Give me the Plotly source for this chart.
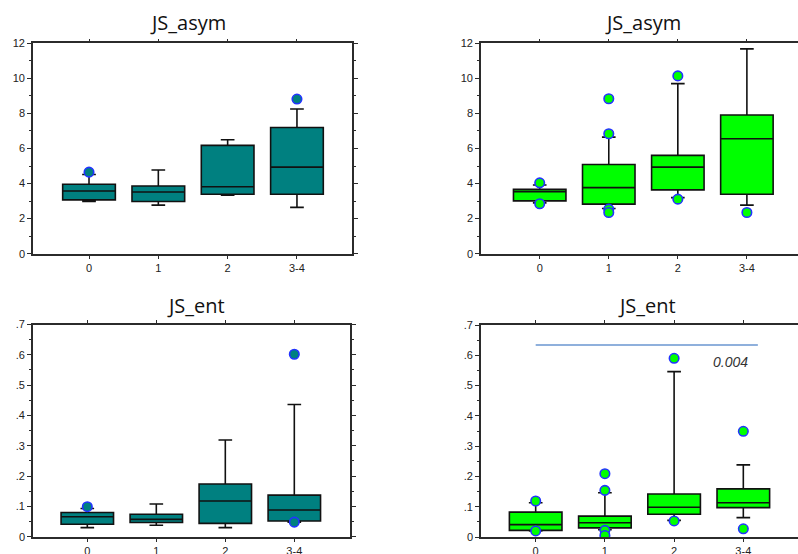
import plotly.graph_objects as go

# ---------------------------------------------------------------------------
# Data: box-plot summaries per severity group (0, 1, 2, 3-4)
# ---------------------------------------------------------------------------
groups = ["0", "1", "2", "3-4"]
group_pos = [0, 1, 2, 3]

# JS_asym, cohort A (teal)
asym_a_q1 = [3.07, 2.98, 3.39, 3.39]
asym_a_med = [3.58, 3.52, 3.82, 4.94]
asym_a_q3 = [3.96, 3.86, 6.18, 7.20]
asym_a_lo = [2.98, 2.77, 3.33, 2.64]
asym_a_hi = [4.52, 4.77, 6.50, 8.25]
asym_a_out_x = [0, 3]
asym_a_out_y = [4.65, 8.82]

# JS_asym, cohort B (green)
asym_b_q1 = [3.01, 2.83, 3.64, 3.39]
asym_b_med = [3.54, 3.77, 4.94, 6.56]
asym_b_q3 = [3.67, 5.09, 5.61, 7.91]
asym_b_lo = [2.90, 2.58, 3.20, 2.77]
asym_b_hi = [3.92, 6.65, 9.70, 11.68]
asym_b_out_x = [0, 0, 1, 1, 1, 1, 2, 2, 3]
asym_b_out_y = [4.04, 2.85, 6.84, 8.84, 2.54, 2.35, 10.14, 3.11, 2.35]

# JS_ent, cohort A (teal)
ent_a_q1 = [0.041, 0.047, 0.044, 0.052]
ent_a_med = [0.066, 0.057, 0.118, 0.088]
ent_a_q3 = [0.080, 0.074, 0.174, 0.137]
ent_a_lo = [0.030, 0.038, 0.030, 0.048]
ent_a_hi = [0.093, 0.108, 0.319, 0.436]
ent_a_out_x = [0, 3, 3]
ent_a_out_y = [0.099, 0.602, 0.048]

# JS_ent, cohort B (green)
ent_b_q1 = [0.022, 0.030, 0.075, 0.097]
ent_b_med = [0.041, 0.047, 0.098, 0.113]
ent_b_q3 = [0.082, 0.069, 0.142, 0.159]
ent_b_lo = [0.020, 0.024, 0.055, 0.064]
ent_b_hi = [0.113, 0.146, 0.546, 0.238]
ent_b_out_x = [0, 0, 1, 1, 1, 1, 2, 2, 3, 3]
ent_b_out_y = [0.119, 0.020, 0.154, 0.209, 0.022, 0.005, 0.590, 0.053, 0.349, 0.027]

# trend test between group 0 and 3-4 for JS_ent, cohort B
trend_p = "0.004"
trend_y = 0.634
trend_x_end = 3.21
trend_label_x = 2.81
trend_label_y = 0.578

# axis tick labels
asym_ticks = [0, 2, 4, 6, 8, 10, 12]
asym_ticktext = ["0", "2", "4", "6", "8", "10", "12"]
ent_ticks = [0, 0.1, 0.2, 0.3, 0.4, 0.5, 0.6, 0.7]
ent_ticktext = ["0", ".1", ".2", ".3", ".4", ".5", ".6", ".7"]

# ---------------------------------------------------------------------------
# Layout helpers (pixel geometry of the 798x554 canvas)
# ---------------------------------------------------------------------------
W, H = 798, 554


def fx(p):
    return p / W


def fy(p):
    return 1 - p / H


TEAL = "#008080"
GREEN = "#00ff00"
OUT_EDGE = "#2233ff"
AXIS = "#2b2b2b"
TICKFONT = dict(family="Liberation Sans, Arial, sans-serif", size=11, color="#222222")
TITLEFONT = dict(family="Open Sans, Noto Sans, sans-serif", size=20, color="#111111")

panels = [
    dict(q1=asym_a_q1, med=asym_a_med, q3=asym_a_q3, lo=asym_a_lo, hi=asym_a_hi,
         ox=asym_a_out_x, oy=asym_a_out_y, color=TEAL,
         xd=(33, 352), yd=(43.3, 253.7), xr=(-0.808, 3.794), kind="asym", mirror=True,
         title="JS_asym", tx=188, ty=22),
    dict(q1=asym_b_q1, med=asym_b_med, q3=asym_b_q3, lo=asym_b_lo, hi=asym_b_hi,
         ox=asym_b_out_x, oy=asym_b_out_y, color=GREEN,
         xd=(481, 798), yd=(43.3, 253.7), xr=(-0.85, 3.74), kind="asym", mirror=False,
         title="JS_asym", tx=643, ty=22),
    dict(q1=ent_a_q1, med=ent_a_med, q3=ent_a_q3, lo=ent_a_lo, hi=ent_a_hi,
         ox=ent_a_out_x, oy=ent_a_out_y, color=TEAL,
         xd=(33, 350), yd=(324.5, 536.7), xr=(-0.787, 3.807), kind="ent", mirror=True,
         title="JS_ent", tx=196, ty=305),
    dict(q1=ent_b_q1, med=ent_b_med, q3=ent_b_q3, lo=ent_b_lo, hi=ent_b_hi,
         ox=ent_b_out_x, oy=ent_b_out_y, color=GREEN,
         xd=(481, 798), yd=(325, 537), xr=(-0.79, 3.79), kind="ent", mirror=False,
         title="JS_ent", tx=647, ty=305),
]

fig = go.Figure()
layout = dict(
    width=W, height=H,
    margin=dict(l=0, r=0, t=0, b=0, autoexpand=False),
    paper_bgcolor="white", plot_bgcolor="white",
    showlegend=False,
    annotations=[], shapes=[],
)

for i, p in enumerate(panels, start=1):
    xa = "x" if i == 1 else f"x{i}"
    ya = "y" if i == 1 else f"y{i}"
    xkey = "xaxis" if i == 1 else f"xaxis{i}"
    ykey = "yaxis" if i == 1 else f"yaxis{i}"

    fig.add_trace(go.Box(
        x=group_pos, q1=p["q1"], median=p["med"], q3=p["q3"],
        lowerfence=p["lo"], upperfence=p["hi"],
        width=0.76, whiskerwidth=0.26,
        fillcolor=p["color"], line=dict(color="#111111", width=1.6),
        boxpoints=False, xaxis=xa, yaxis=ya, hoverinfo="skip",
    ))
    fig.add_trace(go.Scatter(
        x=p["ox"], y=p["oy"], mode="markers",
        marker=dict(symbol="circle", size=9.5, color=p["color"],
                    line=dict(color=OUT_EDGE, width=1.6)),
        xaxis=xa, yaxis=ya, hoverinfo="skip",
    ))

    if p["kind"] == "asym":
        yrange, tv, tt, minor_dt = (0, 12), asym_ticks, asym_ticktext, 1
    else:
        yrange, tv, tt, minor_dt = (0, 0.7), ent_ticks, ent_ticktext, 0.05

    layout[xkey] = dict(
        domain=[fx(p["xd"][0]), fx(p["xd"][1])], range=list(p["xr"]),
        anchor=ya, tickmode="array", tickvals=group_pos, ticktext=groups,
        ticks="outside", ticklen=3, tickwidth=1, tickcolor=AXIS,
        showline=True, linecolor=AXIS, linewidth=1.6, mirror="ticks",
        showgrid=False, zeroline=False, tickfont=TICKFONT, fixedrange=True,
        automargin=False,
    )
    layout[ykey] = dict(
        domain=[fy(p["yd"][1]), fy(p["yd"][0])], range=list(yrange),
        anchor=xa, tickmode="array", tickvals=tv, ticktext=tt,
        ticks="outside", ticklen=4, tickwidth=1, tickcolor=AXIS,
        minor=dict(ticks="outside", ticklen=2, dtick=minor_dt, tick0=0,
                   tickcolor=AXIS, tickwidth=1, showgrid=False),
        showline=True, linecolor=AXIS, linewidth=1.6,
        mirror="ticks" if p["mirror"] else False,
        showgrid=False, zeroline=False, tickfont=TICKFONT, fixedrange=True,
        automargin=False,
    )
    layout["annotations"].append(dict(
        text=p["title"], x=fx(p["tx"]), y=fy(p["ty"]), xref="paper", yref="paper",
        xanchor="center", yanchor="middle", showarrow=False, font=TITLEFONT,
    ))

# significance bar over the JS_ent panel of cohort B
layout["shapes"].append(dict(
    type="line", xref="x4", yref="y4", x0=group_pos[0], x1=trend_x_end,
    y0=trend_y, y1=trend_y, line=dict(color="#6a96d0", width=1.5),
))
layout["annotations"].append(dict(
    text=f"<i>{trend_p}</i>", x=trend_label_x, y=trend_label_y, xref="x4", yref="y4",
    xanchor="center", yanchor="middle", showarrow=False,
    font=dict(family="Liberation Sans, Arial, sans-serif", size=14, color="#333333"),
))

fig.update_layout(**layout)
fig.write_html("out.html")
